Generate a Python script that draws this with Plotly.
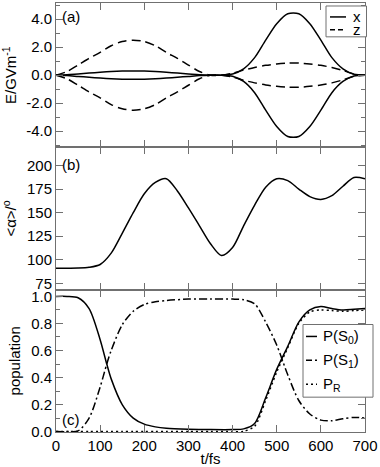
import plotly.graph_objects as go

# ---------------- data ----------------
t_a = [0, 25, 50, 75, 100, 125, 150, 175, 200, 225, 250, 275, 300, 325, 350,
       375, 400, 425, 450, 475, 500, 525, 550, 575, 600, 625, 650, 675, 700]
Ex_env = [0, 0.03, 0.09, 0.15, 0.21, 0.26, 0.29, 0.30, 0.29, 0.26, 0.21, 0.15, 0.09, 0.03, 0,
          0, 0.08, 0.45, 1.25, 2.5, 3.67, 4.38, 4.38, 3.67, 2.5, 1.25, 0.45, 0.06, 0]
Ez_env = [0, 0.26, 0.72, 1.2, 1.62, 2.1, 2.4, 2.5, 2.4, 2.1, 1.62, 1.2, 0.72, 0.26, 0,
          0, 0.14, 0.36, 0.55, 0.7, 0.8, 0.86, 0.86, 0.8, 0.7, 0.55, 0.34, 0.08, 0]

t_b = [0, 50, 75, 100, 125, 150, 175, 200, 225, 250, 275, 300, 325, 350, 375, 400,
       425, 450, 475, 500, 525, 550, 575, 600, 625, 650, 675, 700]
alpha = [91, 91.2, 92, 95, 107, 128, 150, 170, 182, 186, 173, 155, 136, 117, 104.5, 113,
         136, 158, 177, 186, 184, 175, 167, 164, 168, 178, 187.3, 186]

t_c = [0, 25, 50, 75, 100, 115, 125, 150, 175, 200, 225, 250, 300, 350, 400, 425,
       450, 475, 500, 525, 550, 575, 600, 625, 650, 675, 700]
P_S0 = [1.0, 1.0, 0.99, 0.91, 0.68, 0.5, 0.39, 0.2, 0.1, 0.055, 0.035, 0.025, 0.018, 0.015, 0.015, 0.02,
        0.06, 0.25, 0.46, 0.63, 0.81, 0.9, 0.925, 0.91, 0.9, 0.905, 0.91]
P_S1 = [0, 0, 0.005, 0.1, 0.33, 0.5, 0.6, 0.79, 0.89, 0.94, 0.96, 0.97, 0.98, 0.98, 0.98, 0.975,
        0.945, 0.81, 0.64, 0.42, 0.23, 0.13, 0.085, 0.08, 0.095, 0.105, 0.1]
P_R = [0, 0, 0, 0, 0, 0, 0, 0, 0, 0, 0, 0, 0, 0, 0, 0.002,
       0.04, 0.23, 0.44, 0.62, 0.8, 0.885, 0.9, 0.895, 0.89, 0.895, 0.9]

x_ticks = [0, 100, 200, 300, 400, 500, 600, 700]
E_ticks = [-4, -2, 0, 2, 4]
E_ticktext = ["-4.0", "-2.0", "0.0", "2.0", "4.0"]
alpha_ticks = [75, 100, 125, 150, 175, 200]
pop_ticks = [0, 0.2, 0.4, 0.6, 0.8, 1.0]
pop_ticktext = ["0.0", "0.2", "0.4", "0.6", "0.8", "1.0"]

# ---------------- figure ----------------
FONT = "Liberation Sans, Arial, sans-serif"
AX = "#707070"
fig = go.Figure()

def line(x, y, xa, ya, dash="solid", w=1.5):
    fig.add_trace(go.Scatter(x=x, y=y, xaxis=xa, yaxis=ya, mode="lines",
                             line=dict(color="black", width=w, dash=dash, shape="spline", smoothing=0.8),
                             showlegend=False, hoverinfo="skip"))

# panel (a)
line(t_a, Ex_env, "x3", "y3")
line(t_a, [-v for v in Ex_env], "x3", "y3")
line(t_a, Ez_env, "x3", "y3", dash="9px,5px")
line(t_a, [-v for v in Ez_env], "x3", "y3", dash="9px,5px")
# panel (b)
line(t_b, alpha, "x2", "y2")
# panel (c)
line(t_c, P_S0, "x", "y")
line(t_c, P_S1, "x", "y", dash="8px,3px,2px,3px")
line(t_c, P_R, "x", "y", dash="2px,3px")

ax_common = dict(showline=True, linecolor=AX, linewidth=1, mirror="ticks", ticks="inside",
                 ticklen=7, tickcolor=AX, tickwidth=1, showgrid=False, zeroline=False,
                 tickfont=dict(family=FONT, size=15, color="black"))

xa = dict(ax_common, range=[0, 700], tickvals=x_ticks)
fig.update_layout(
    xaxis=dict(xa, anchor="y", showticklabels=True,
               title=dict(text="t/fs", font=dict(family=FONT, size=15), standoff=1)),
    xaxis2=dict(xa, anchor="y2", matches="x", showticklabels=False),
    xaxis3=dict(xa, anchor="y3", matches="x", showticklabels=False),
    yaxis3=dict(ax_common, domain=[0.6636, 1.0], range=[-5.15, 5.15], tickvals=E_ticks,
                ticktext=E_ticktext, minor=dict(ticks="inside", ticklen=4, tickcolor=AX, dtick=1, tick0=0),
                title=dict(text="E/GVm<sup>-1</sup>", font=dict(family=FONT, size=15), standoff=6)),
    yaxis2=dict(ax_common, domain=[0.3318, 0.6636], range=[68.3, 219.3], tickvals=alpha_ticks,
                title=dict(text="<α>/<sup>o</sup>", font=dict(family=FONT, size=15), standoff=6)),
    yaxis=dict(ax_common, domain=[0, 0.3318], range=[-0.003, 1.05], tickvals=pop_ticks,
               ticktext=pop_ticktext,
               minor=dict(ticks="inside", ticklen=4, tickcolor=AX, dtick=0.1, tick0=0),
               title=dict(text="population", font=dict(family=FONT, size=15), standoff=6)),
)

def px2x(px):
    return (px - 56) / 309.0

def px2y(py):
    return (432 - py) / 431.0

shapes = []
annotations = []

# panel labels
for lab, py in [("(a)", 15), ("(b)", 163), ("(c)", 419)]:
    annotations.append(dict(text=lab, x=px2x(60), y=px2y(py), xref="paper", yref="paper",
                            xanchor="left", yanchor="middle", showarrow=False,
                            font=dict(family=FONT, size=15, color="black")))

# legend (a)
shapes.append(dict(type="rect", xref="paper", yref="paper", x0=px2x(326), x1=px2x(366.5),
                   y0=px2y(35), y1=px2y(4), line=dict(color=AX, width=1), fillcolor="white", layer="above"))
for name, dash, py in [("x", "solid", 15), ("z", "5px,3px", 28)]:
    shapes.append(dict(type="line", xref="paper", yref="paper", x0=px2x(330), x1=px2x(346),
                       y0=px2y(py), y1=px2y(py), line=dict(color="black", width=1.5, dash=dash), layer="above"))
    annotations.append(dict(text=name, x=px2x(351), y=px2y(py), xref="paper", yref="paper",
                            xanchor="left", yanchor="middle", showarrow=False,
                            font=dict(family=FONT, size=15, color="black")))

# legend (c)
shapes.append(dict(type="rect", xref="paper", yref="paper", x0=px2x(303), x1=px2x(373),
                   y0=px2y(397), y1=px2y(324), line=dict(color=AX, width=1), fillcolor="white", layer="above"))
for name, dash, py in [("P(S<sub>0</sub>)", "solid", 336), ("P(S<sub>1</sub>)", "6px,3px,2px,3px", 360),
                       ("P<sub>R</sub>", "2px,3px", 384)]:
    shapes.append(dict(type="line", xref="paper", yref="paper", x0=px2x(306), x1=px2x(317),
                       y0=px2y(py), y1=px2y(py), line=dict(color="black", width=1.5, dash=dash), layer="above"))
    annotations.append(dict(text=name, x=px2x(321), y=px2y(py), xref="paper", yref="paper",
                            xanchor="left", yanchor="middle", showarrow=False,
                            font=dict(family=FONT, size=15, color="black")))

fig.update_layout(shapes=shapes, annotations=annotations,
                  width=380, height=467, margin=dict(l=56, r=15, t=1, b=35),
                  paper_bgcolor="white", plot_bgcolor="white", showlegend=False,
                  font=dict(family=FONT, size=15, color="black"))

fig.write_html("out.html", config={"displayModeBar": False},
               post_script="document.body.style.margin='0px';document.body.style.padding='0px';")
